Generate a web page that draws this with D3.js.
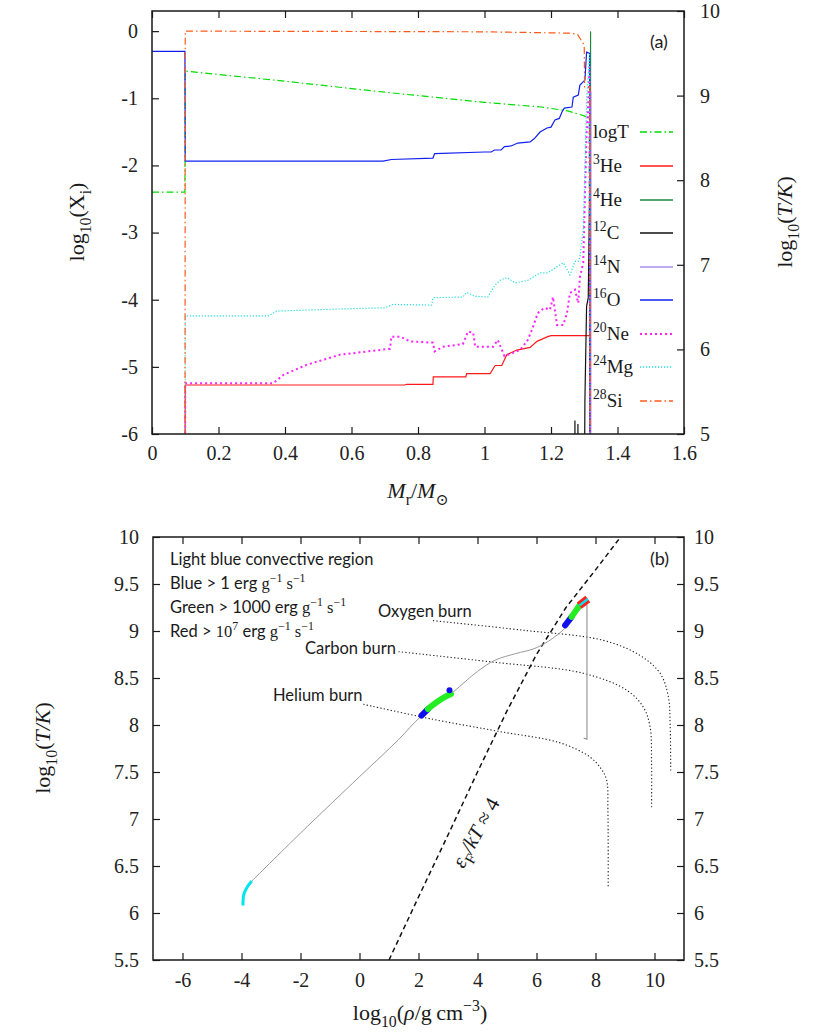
<!DOCTYPE html>
<html><head><meta charset="utf-8">
<script src="https://cdn.jsdelivr.net/npm/d3@7"></script>
<style>body{margin:0;background:#fff}</style>
</head><body><svg id="c" width="823" height="1036"></svg>
<script>
// ---------------- DATA ----------------
const LOW = -9; // below plotted range (clipped)
const massTicks = [0,0.2,0.4,0.6,0.8,1,1.2,1.4,1.6];
const logXTicks = [-6,-5,-4,-3,-2,-1,0];
const logT2Ticks = [5,6,7,8,9,10];
const rhoTicks = [-6,-4,-2,0,2,4,6,8,10];
const tempTicks = [5.5,6,6.5,7,7.5,8,8.5,9,9.5,10];

// panel (a): [M_r/Msun, value]
const logT = [[0,7.86],[0.099,7.86],[0.1,9.29],[0.4,9.17],[0.7,9.04],[1.0,8.92],[1.17,8.865],[1.25,8.82],[1.3,8.76],[1.315,8.73],[1.317,4]];
const he3 = [[0,LOW],[0.099,LOW],[0.1,-5.27],[0.76,-5.27],[0.765,-5.26],[0.845,-5.26],[0.846,-5.15],[0.944,-5.15],[0.946,-5.10],[1.017,-5.10],[1.032,-4.98],[1.052,-4.98],[1.067,-4.82],[1.097,-4.75],[1.137,-4.71],[1.158,-4.62],[1.19,-4.55],[1.2,-4.535],[1.317,-4.535],[1.318,LOW]];
const he4 = [[0,LOW],[1.3185,LOW],[1.319,-0.01],[1.32,-0.01]];
const c12 = [[0,LOW],[1.271,LOW],[1.272,-5.8],[1.273,LOW],[1.28,LOW],[1.281,-5.85],[1.282,LOW],[1.298,LOW],[1.302,-5.5],[1.307,-4.1],[1.312,-3.97],[1.316,-2.5],[1.318,LOW]];
const n14 = [[0,LOW],[1.3195,LOW],[1.32,-0.9],[1.321,-0.9]];
const o16 = [[0,-0.3],[0.099,-0.3],[0.1,-1.935],[0.695,-1.935],[0.72,-1.912],[0.845,-1.89],[0.85,-1.823],[1.0,-1.80],[1.02,-1.80],[1.03,-1.77],[1.05,-1.77],[1.06,-1.72],[1.08,-1.71],[1.1,-1.667],[1.137,-1.65],[1.15,-1.6],[1.167,-1.503],[1.188,-1.443],[1.2,-1.43],[1.212,-1.324],[1.225,-1.3],[1.233,-1.205],[1.24,-1.146],[1.263,-1.131],[1.267,-0.982],[1.282,-0.952],[1.287,-0.804],[1.302,-0.729],[1.307,-0.3125],[1.316,-0.33],[1.318,LOW]];
const ne20 = [[0,LOW],[0.099,LOW],[0.1,-5.243],[0.365,-5.243],[0.395,-5.12],[0.465,-4.97],[0.565,-4.82],[0.716,-4.73],[0.72,-4.55],[0.746,-4.55],[0.776,-4.62],[0.845,-4.64],[0.85,-4.77],[0.875,-4.70],[0.935,-4.66],[0.95,-4.475],[0.966,-4.49],[0.972,-4.70],[1.026,-4.70],[1.04,-4.60],[1.06,-4.84],[1.107,-4.75],[1.13,-4.60],[1.145,-4.42],[1.16,-4.2],[1.18,-4.12],[1.197,-4.15],[1.206,-3.96],[1.218,-4.375],[1.237,-4.375],[1.248,-4.2],[1.257,-3.9],[1.272,-3.85],[1.282,-4.05],[1.287,-3.66],[1.297,-3.45],[1.307,-1.52],[1.31,-1.3],[1.316,-0.5],[1.318,LOW]];
const mg24 = [[0,LOW],[0.099,LOW],[0.1,-4.24],[0.35,-4.24],[0.375,-4.17],[0.55,-4.14],[0.70,-4.12],[0.726,-4.07],[0.841,-4.08],[0.845,-3.97],[0.935,-3.96],[0.946,-3.89],[0.972,-3.95],[1.01,-3.96],[1.032,-3.78],[1.047,-3.71],[1.067,-3.67],[1.092,-3.75],[1.131,-3.71],[1.167,-3.6],[1.19,-3.6],[1.237,-3.45],[1.257,-3.63],[1.272,-3.43],[1.282,-3.43],[1.287,-3.36],[1.297,-2.96],[1.302,-2.02],[1.307,-1.03],[1.316,-0.33],[1.318,LOW]];
const si28 = [[0,LOW],[0.099,LOW],[0.1,0.0],[0.6,-0.005],[1.0,-0.01],[1.26,-0.03],[1.28,-0.05],[1.3,-0.21],[1.301,-0.83],[1.317,-0.83],[1.318,LOW]];

// panel (b): [log10 rho, log10 T]
const trackConv = [[-3.95,6.08],[-3.92,6.2],[-3.8,6.28],[-3.65,6.34]];
const trackMain = [[-3.65,6.34],[-2,6.85],[0,7.45],[1.31,7.84],[2.11,8.1],[3.17,8.35],[4.0,8.57],[4.6,8.69],[5.3,8.76],[5.9,8.81],[6.4,8.89],[7.0,9.04],[7.45,9.22],[7.7,9.3]];
const trackDrop = [[7.71,9.28],[7.71,7.85],[7.6,7.86]];
const heBlue = [[2.1,8.1],[2.32,8.17]];
const heGreen = [[2.32,8.17],[2.6,8.24],[2.9,8.3],[3.1,8.33]];
const heDot = [[3.05,8.37]];
const oBlue = [[6.97,9.06],[7.19,9.15]];
const oGreen = [[7.19,9.15],[7.47,9.28]];
const oRed = [[7.45,9.27],[7.74,9.34]];
const degeneracy = [[1.0,5.5],[2,6.17],[3,6.83],[4,7.5],[5,8.15],[6,8.75],[7,9.25],[8,9.65],[8.85,10.0]];
const heliumBurn = [[0.13,8.22],[2.5,8.06],[4.76,7.93],[6.80,7.81],[7.81,7.66],[8.2,7.53],[8.38,7.41],[8.42,7.1],[8.43,6.27]];
const carbonBurn = [[1.32,8.78],[4.5,8.67],[7.59,8.55],[9.06,8.37],[9.62,8.19],[9.85,7.98],[9.9,7.6],[9.90,7.11]];
const oxygenBurn = [[2.49,9.11],[5.5,9.01],[8.27,8.90],[9.51,8.74],[10.19,8.55],[10.47,8.30],[10.53,8.0],[10.55,7.5]];

// ---------------- DRAW ----------------
const svg = d3.select('#c');
const SERIF = '"Liberation Serif","DejaVu Serif",serif';
const SANS = 'Lato,"Open Sans",sans-serif';
const INK = '#1a1a1a';

function rich(sel, parts, fs, fam) {
  let shift = 0;
  parts.forEach(p => {
    const target = p.sub ? 0.3*fs : (p.sup ? -0.42*fs : 0);
    const ts = sel.append('tspan').attr('dy', target - shift).text(p.t)
      .style('font-size', (p.sub||p.sup) ? (fs*0.72)+'px' : fs+'px')
      .style('font-family', p.f === 'serif' ? SERIF : (p.f === 'sans' ? SANS : fam));
    if (p.it) ts.style('font-style','italic');
    shift = target;
  });
}

// ===== Panel (a) =====
const xa = d3.scaleLinear([0,1.6],[152,684]);
const ya = d3.scaleLinear([-6,0.3],[434,11]);
const ya2 = d3.scaleLinear([5,10],[434,11]);

svg.append('clipPath').attr('id','clipA').append('rect')
  .attr('x',152).attr('y',11).attr('width',532).attr('height',423);

const ga = svg.append('g');
function axisStyle(g){ g.select('.domain').remove(); g.selectAll('line').attr('stroke',INK).attr('stroke-width',1.2);
  g.selectAll('text').attr('fill','#222').style('font-family',SERIF).style('font-size','20px'); }

ga.append('g').attr('transform','translate(0,434)')
  .call(d3.axisBottom(xa).tickValues(massTicks).tickSize(-7).tickPadding(12).tickFormat(d=>String(d))).call(axisStyle);
ga.append('g').attr('transform','translate(0,11)')
  .call(d3.axisTop(xa).tickValues(massTicks).tickSize(-7).tickFormat('')).call(axisStyle);
ga.append('g').attr('transform','translate(152,0)')
  .call(d3.axisLeft(ya).tickValues(logXTicks).tickSize(-7).tickPadding(14).tickFormat(d=>String(d))).call(axisStyle);
ga.append('g').attr('transform','translate(684,0)')
  .call(d3.axisRight(ya2).tickValues(logT2Ticks).tickSize(-7).tickPadding(16).tickFormat(d=>String(d))).call(axisStyle);

const lineA = d3.line().x(d=>xa(d[0])).y(d=>ya(d[1]));
const lineA2 = d3.line().x(d=>xa(d[0])).y(d=>ya2(d[1]));
const plotA = ga.append('g').attr('clip-path','url(#clipA)');

const seriesA = [
  {name:'logT', data:logT, color:'#00dd00', dash:'7,3,1.5,3', axis2:true, label:[{t:'logT'}]},
  {name:'he3', data:he3, color:'#ff1a1a', dash:null, label:[{t:'3',sup:1},{t:'He'}]},
  {name:'he4', data:he4, color:'#1f8a3f', dash:null, label:[{t:'4',sup:1},{t:'He'}]},
  {name:'c12', data:c12, color:'#111111', dash:null, label:[{t:'12',sup:1},{t:'C'}]},
  {name:'n14', data:n14, color:'#a890ee', dash:null, label:[{t:'14',sup:1},{t:'N'}]},
  {name:'o16', data:o16, color:'#1020ee', dash:null, label:[{t:'16',sup:1},{t:'O'}]},
  {name:'ne20', data:ne20, color:'#ff22ff', dash:'2,3', width:2, label:[{t:'20',sup:1},{t:'Ne'}]},
  {name:'mg24', data:mg24, color:'#22dddd', dash:'1.2,1.8', label:[{t:'24',sup:1},{t:'Mg'}]},
  {name:'si28', data:si28, color:'#ff5a1a', dash:'7,3,1.5,3', label:[{t:'28',sup:1},{t:'Si'}]}
];
const legendY = [132,166,200,233,267,300,334,367,401];
seriesA.forEach((s,i) => {
  plotA.append('path').attr('d', s.axis2 ? lineA2(s.data) : lineA(s.data))
    .attr('fill','none').attr('stroke',s.color).attr('stroke-width',s.width||1.2)
    .attr('stroke-dasharray',s.dash);
  const ly = legendY[i];
  ga.append('line').attr('x1',640).attr('x2',673).attr('y1',ly).attr('y2',ly)
    .attr('stroke',s.color).attr('stroke-width',s.width||1.4).attr('stroke-dasharray',s.dash);
  const t = ga.append('text').attr('x',593).attr('y',ly+6).attr('fill',INK);
  rich(t, s.label, 19, SERIF);
});

ga.append('rect').attr('x',152).attr('y',11).attr('width',532).attr('height',423)
  .attr('fill','none').attr('stroke',INK).attr('stroke-width',1.5);
ga.append('text').attr('x',650).attr('y',48).attr('fill',INK).style('font-family',SANS).style('font-size','18px').text('(a)');

// axis titles
{
  const t = ga.append('text').attr('text-anchor','middle').attr('transform','translate(84,222) rotate(-90)').attr('fill',INK);
  rich(t,[{t:'log'},{t:'10',sub:1},{t:'('},{t:'X'},{t:'i',sub:1},{t:')'}],22,SERIF);
  const t2 = ga.append('text').attr('text-anchor','middle').attr('transform','translate(792,222) rotate(-90)').attr('fill',INK);
  rich(t2,[{t:'log'},{t:'10',sub:1},{t:'('},{t:'T/K',it:1},{t:')'}],22,SERIF);
  const t3 = ga.append('text').attr('text-anchor','middle').attr('x',418).attr('y',498).attr('fill',INK);
  rich(t3,[{t:'M',it:1},{t:'r',sub:1},{t:'/'},{t:'M',it:1},{t:'⊙',sub:1}],22,SERIF);
}

// ===== Panel (b) =====
const xb = d3.scaleLinear([-7,11],[153,684]);
const yb = d3.scaleLinear([5.5,10],[960,537]);
svg.append('clipPath').attr('id','clipB').append('rect')
  .attr('x',153).attr('y',537).attr('width',531).attr('height',423);
const gb = svg.append('g');
gb.append('g').attr('transform','translate(0,960)')
  .call(d3.axisBottom(xb).tickValues(rhoTicks).tickSize(-7).tickPadding(13).tickFormat(d=>String(d))).call(axisStyle);
gb.append('g').attr('transform','translate(0,537)')
  .call(d3.axisTop(xb).tickValues(rhoTicks).tickSize(-7).tickFormat('')).call(axisStyle);
gb.append('g').attr('transform','translate(153,0)')
  .call(d3.axisLeft(yb).tickValues(tempTicks).tickSize(-7).tickPadding(14).tickFormat(d=>String(d))).call(axisStyle);
gb.append('g').attr('transform','translate(684,0)')
  .call(d3.axisRight(yb).tickValues(tempTicks).tickSize(-7).tickPadding(10).tickFormat(d=>String(d))).call(axisStyle);

const plotB = gb.append('g').attr('clip-path','url(#clipB)');
const lineB = d3.line().x(d=>xb(d[0])).y(d=>yb(d[1]));
const curveB = d3.line().x(d=>xb(d[0])).y(d=>yb(d[1])).curve(d3.curveCatmullRom.alpha(0.5));

[heliumBurn, carbonBurn, oxygenBurn].forEach(d => {
  plotB.append('path').attr('d',curveB(d)).attr('fill','none').attr('stroke','#222')
    .attr('stroke-width',1.1).attr('stroke-dasharray','1.3,2.2');
});
plotB.append('path').attr('d',lineB(degeneracy)).attr('fill','none').attr('stroke','#111')
  .attr('stroke-width',1.5).attr('stroke-dasharray','5,3.5');
plotB.append('path').attr('d',curveB(trackMain)).attr('fill','none').attr('stroke','#999').attr('stroke-width',1);
plotB.append('path').attr('d',lineB(trackDrop)).attr('fill','none').attr('stroke','#999').attr('stroke-width',1.2);
plotB.append('path').attr('d',curveB(trackConv)).attr('fill','none').attr('stroke','#00e5ee').attr('stroke-width',3);
function thick(d,color,w,cap){ plotB.append('path').attr('d',curveB(d)).attr('fill','none').attr('stroke',color).attr('stroke-width',w).attr('stroke-linecap',cap||'round'); }
thick(heBlue,'#1010ee',6); thick(heGreen,'#22ee22',6);
plotB.selectAll('circle.hd').data(heDot).join('circle').attr('cx',d=>xb(d[0])).attr('cy',d=>yb(d[1])).attr('r',3).attr('fill','#1010ee');
thick(oBlue,'#1010ee',6); thick(oGreen,'#22ee22',6);
thick(oRed,'#ff2020',8,'butt'); thick(oRed,'#00e5ee',2.5,'butt');

gb.append('rect').attr('x',153).attr('y',537).attr('width',531).attr('height',423)
  .attr('fill','none').attr('stroke',INK).attr('stroke-width',1.5);
gb.append('text').attr('x',650).attr('y',565).attr('fill',INK).style('font-family',SANS).style('font-size','18px').text('(b)');

// annotations
const notes = [
  {y:565, parts:[{t:'Light blue convective region'}]},
  {y:589, parts:[{t:'Blue > 1 erg '},{t:'g',f:'serif'},{t:'−1',sup:1,f:'serif'},{t:' s',f:'serif'},{t:'−1',sup:1,f:'serif'}]},
  {y:613, parts:[{t:'Green > 1000 erg '},{t:'g',f:'serif'},{t:'−1',sup:1,f:'serif'},{t:' s',f:'serif'},{t:'−1',sup:1,f:'serif'}]},
  {y:637, parts:[{t:'Red > '},{t:'10',f:'serif'},{t:'7',sup:1,f:'serif'},{t:' erg '},{t:'g',f:'serif'},{t:'−1',sup:1,f:'serif'},{t:' s',f:'serif'},{t:'−1',sup:1,f:'serif'}]}
];
notes.forEach(n => {
  const t = gb.append('text').attr('x',170).attr('y',n.y).attr('fill',INK);
  rich(t,n.parts,16.5,SANS);
});
[['Oxygen burn',378,617],['Carbon burn',305,654],['Helium burn',273,701]].forEach(([s,x,y]) => {
  gb.append('text').attr('x',x).attr('y',y).attr('fill',INK).style('font-family',SANS).style('font-size','16.5px').text(s);
});
{
  const t = gb.append('text').attr('text-anchor','middle').attr('transform','translate(482,836) rotate(-61)').attr('fill',INK);
  rich(t,[{t:'ε',it:1},{t:'F',sub:1},{t:'/kT',it:1},{t:' ≈ 4'}],21,SERIF);
  const t2 = gb.append('text').attr('text-anchor','middle').attr('transform','translate(50,748) rotate(-90)').attr('fill',INK);
  rich(t2,[{t:'log'},{t:'10',sub:1},{t:'('},{t:'T/K',it:1},{t:')'}],22,SERIF);
  const t3 = gb.append('text').attr('text-anchor','middle').attr('x',420).attr('y',1020).attr('fill',INK);
  rich(t3,[{t:'log'},{t:'10',sub:1},{t:'('},{t:'ρ',it:1},{t:'/g\u2009cm'},{t:'−3',sup:1},{t:')'}],22,SERIF);
}
</script></body></html>
